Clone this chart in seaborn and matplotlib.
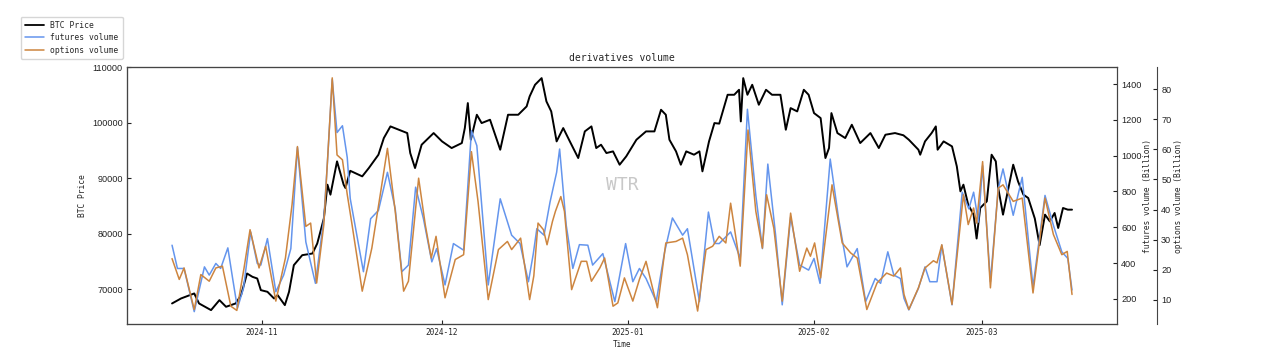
import numpy as np
import pandas as pd
import matplotlib
matplotlib.use('Agg')
import matplotlib.pyplot as plt
import matplotlib.dates as mdates
from matplotlib.lines import Line2D
import seaborn as sns

# === DATA (days counted from 2024-10-17) ===
START = pd.Timestamp('2024-10-17')

btc_days = [0.0, 1.5, 3.7, 4.5, 6.5, 7.9, 9.0, 10.6, 11.5, 12.5, 13.4, 14.2, 14.8, 15.9, 17.0, 17.6,
            18.8, 19.5, 20.3, 21.7, 23.4, 24.2, 25.3, 25.9, 26.4, 27.5, 28.6, 28.9, 29.7, 31.7, 32.8,
            34.4, 35.3, 36.4, 37.8, 39.2, 39.7, 40.5, 41.6, 43.6, 45.0, 46.6, 48.3, 48.8, 49.3, 49.8,
            50.8, 51.6, 53.0, 54.7, 56.0, 57.7, 59.1, 59.6, 60.5, 61.6, 62.4, 63.2, 63.8, 64.1, 65.2,
            66.3, 67.7, 68.8, 69.9, 70.7, 71.5, 72.4, 73.5, 74.6, 75.7, 77.4, 79.0, 80.4, 81.5, 82.3,
            82.9, 84.0, 84.8, 85.7, 87.0, 87.9, 88.4, 89.5, 90.4, 91.2, 92.6, 93.7, 94.5, 94.8, 95.2,
            95.9, 96.7, 97.8, 99.0, 100.0, 101.4, 102.3, 103.1, 104.2, 105.3, 106.1, 107.0, 108.1,
            108.9, 109.5, 109.9, 110.9, 112.2, 113.3, 114.7, 116.4, 117.8, 118.9, 120.5, 121.9, 122.8,
            124.4, 124.7, 125.5, 126.6, 127.3, 127.6, 128.6, 130.0, 130.8, 131.4, 131.9, 132.7, 133.6,
            134.1, 134.7, 135.8, 136.6, 137.3, 137.7, 138.5, 139.4, 140.2, 141.0, 141.9, 142.7, 143.8,
            144.6, 145.5, 146.3, 147.1, 147.7, 148.5, 149.3, 150.0]
btc_price = [67400, 68300, 69200, 67400, 66200, 68000, 66800, 67400, 68900, 72800, 72200, 71900, 69800,
             69500, 68300, 68900, 67100, 69500, 74300, 76100, 76400, 78200, 82700, 88800, 87000, 93000,
             88800, 88200, 91300, 90300, 91800, 94200, 97200, 99300, 98700, 98100, 94500, 91800, 96000,
             98100, 96600, 95400, 96300, 99000, 103500, 96900, 101400, 99900, 100500, 95100, 101400,
             101400, 102900, 104700, 106800, 108000, 103800, 102000, 98400, 96600, 99000, 96600, 93600,
             98400, 99300, 95400, 96000, 94500, 94800, 92400, 93900, 96900, 98400, 98400, 102300, 101400,
             96900, 94800, 92400, 94800, 94200, 94800, 91200, 96600, 99900, 99800, 105000, 105000,
             105900, 100200, 108000, 105000, 106800, 103200, 105900, 105000, 105000, 98700, 102600,
             102000, 105900, 105000, 101700, 100800, 93600, 95400, 101700, 98100, 97200, 99600, 96300,
             98100, 95400, 97800, 98100, 97700, 96900, 95100, 94200, 96600, 98100, 99300, 95100, 96600,
             95700, 92100, 87600, 88800, 85200, 83400, 79100, 84600, 85800, 94200, 93000, 88200, 83400,
             88200, 92400, 89400, 87000, 86400, 82700, 77900, 83400, 82200, 83700, 81000, 84600, 84300,
             84300]

fut_days = [0.0, 0.9, 2.0, 3.7, 5.4, 6.2, 7.3, 8.1, 9.3, 10.1, 10.9, 11.9, 13.1, 14.2, 14.8, 15.9, 17.3,
            18.6, 19.8, 20.9, 22.3, 23.9, 25.3, 25.9, 26.7, 27.5, 28.4, 29.2, 29.7, 31.1, 31.9, 33.1,
            34.4, 35.9, 37.2, 38.3, 39.4, 40.6, 41.9, 43.3, 44.1, 45.5, 46.9, 48.6, 49.9, 50.8, 52.7,
            54.7, 56.6, 58.0, 59.4, 60.2, 60.8, 62.0, 63.0, 64.1, 64.6, 65.7, 66.8, 67.9, 69.3, 70.1,
            71.8, 73.8, 75.6, 76.8, 77.9, 79.0, 80.7, 82.1, 83.4, 85.1, 85.9, 87.9, 89.4, 90.4, 91.2,
            93.1, 94.7, 95.9, 97.3, 98.4, 99.3, 100.6, 101.7, 103.1, 104.6, 106.1, 107.0, 108.0, 109.7,
            111.1, 112.5, 114.2, 115.6, 117.2, 118.1, 119.3, 120.3, 121.4, 122.0, 122.8, 124.4, 125.5,
            126.3, 127.5, 128.3, 130.0, 131.7, 132.8, 133.6, 134.4, 135.1, 136.4, 137.7, 138.5, 140.2,
            141.7, 143.5, 145.5, 146.9, 148.3, 149.3, 150.0]
fut_volume = [500, 370, 370, 129, 379, 333, 398, 370, 485, 314, 148, 259, 574, 398, 389, 537, 240, 333,
              481, 1046, 518, 287, 648, 963, 1426, 1129, 1167, 990, 760, 500, 352, 648, 694, 907, 703, 352,
              389, 824, 648, 407, 481, 278, 509, 472, 1139, 1056, 278, 759, 556, 509, 296, 450, 592, 556,
              741, 907, 1037, 611, 370, 503, 500, 389, 453, 185, 509, 296, 370, 314, 185, 463, 652, 556,
              592, 185, 685, 510, 509, 574, 426, 1259, 778, 481, 953, 556, 167, 657, 389, 361, 426, 287,
              981, 648, 379, 481, 185, 314, 287, 463, 333, 314, 203, 139, 259, 379, 296, 296, 500, 167,
              796, 703, 796, 629, 944, 296, 814, 926, 667, 879, 268, 778, 611, 463, 426, 250]

opt_days = [0.0, 1.2, 2.0, 3.7, 4.8, 6.2, 7.3, 8.4, 9.8, 10.8, 12.0, 13.0, 14.5, 15.6, 17.3, 18.9, 20.0,
            20.9, 22.3, 23.1, 24.1, 25.3, 26.7, 27.5, 28.4, 29.2, 30.0, 31.7, 33.3, 34.7, 35.9, 37.2,
            38.6, 39.4, 41.1, 42.2, 43.2, 44.0, 45.5, 47.2, 48.6, 49.9, 51.0, 52.7, 54.4, 55.9, 56.6,
            58.1, 59.6, 60.3, 61.0, 61.9, 62.5, 63.4, 63.9, 64.8, 65.4, 66.6, 68.2, 69.1, 69.9, 71.3,
            72.1, 73.5, 74.3, 75.4, 76.8, 77.9, 79.0, 80.9, 82.3, 84.0, 85.1, 85.9, 87.6, 89.0, 90.1,
            91.2, 92.3, 93.1, 94.7, 96.0, 97.3, 98.4, 99.1, 100.3, 101.7, 103.1, 104.6, 105.8, 106.4,
            107.1, 108.1, 110.0, 111.7, 113.1, 114.2, 115.8, 117.5, 119.1, 120.3, 121.4, 122.0, 122.8,
            124.4, 125.5, 126.9, 127.5, 128.3, 130.0, 131.9, 132.7, 133.6, 134.1, 135.1, 136.4, 137.7,
            138.5, 140.2, 141.7, 143.5, 145.5, 146.9, 148.3, 149.2, 150.0]
opt_volume = [23.7, 16.8, 20.6, 6.8, 18.4, 16.2, 20.6, 21.2, 7.9, 6.5, 20.6, 33.3, 20.6, 27.8, 9.6, 23.9,
              41.6, 60.9, 34.4, 35.5, 15.6, 35.0, 83.7, 58.1, 56.5, 45.0, 35.0, 12.9, 27.2, 44.9, 60.3,
              39.4, 12.9, 16.2, 50.4, 35.0, 23.9, 31.1, 10.7, 23.4, 25.0, 59.2, 42.7, 10.1, 26.7, 29.4,
              26.7, 30.5, 10.1, 18.0, 35.5, 33.3, 28.3, 36.0, 39.4, 44.3, 39.4, 13.4, 22.8, 22.8, 16.2,
              20.6, 23.9, 7.9, 9.0, 17.3, 9.6, 16.8, 22.8, 7.4, 28.9, 29.4, 30.5, 25.0, 6.3, 26.7, 27.8,
              31.1, 28.9, 42.1, 21.2, 66.4, 39.4, 27.2, 44.9, 33.8, 9.6, 38.8, 19.5, 27.2, 24.5, 28.9,
              17.3, 48.2, 28.9, 25.6, 23.9, 6.8, 15.6, 18.9, 17.9, 20.6, 11.8, 6.8, 14.0, 20.6, 23.0,
              22.3, 28.3, 8.5, 44.9, 35.0, 40.5, 35.5, 55.9, 14.0, 47.1, 48.2, 42.7, 43.8, 12.3, 43.8,
              31.7, 25.0, 26.1, 11.8]

btc_time = START + pd.to_timedelta(btc_days, unit='D')
fut_time = START + pd.to_timedelta(fut_days, unit='D')
opt_time = START + pd.to_timedelta(opt_days, unit='D')

# === STYLE ===
sns.set_style('ticks')
MONO = 'DejaVu Sans Mono'
NUM = 'Liberation Sans'
plt.rcParams['font.family'] = [MONO, 'DejaVu Sans']
plt.rcParams['axes.edgecolor'] = '#444444'
plt.rcParams['xtick.direction'] = 'in'
plt.rcParams['ytick.direction'] = 'in'

C_BTC = 'black'
C_FUT = 'cornflowerblue'
C_OPT = 'peru'

fig = plt.figure(figsize=(12.82, 3.58), dpi=100)
ax = fig.add_axes([0.0991, 0.095, 0.7722, 0.7178])
ax2 = ax.twinx()
ax3 = ax.twinx()
ax3.spines['right'].set_position(('axes', 1.0404))

sns.lineplot(x=btc_time, y=btc_price, ax=ax, color=C_BTC, lw=1.4, legend=False)
sns.lineplot(x=fut_time, y=fut_volume, ax=ax2, color=C_FUT, lw=1.1, legend=False)
sns.lineplot(x=opt_time, y=opt_volume, ax=ax3, color=C_OPT, lw=1.1, legend=False)

ax.set_ylim(63700, 110000)
ax2.set_ylim(60, 1495)
ax3.set_ylim(2, 87.3)
ax.set_yticks([70000, 80000, 90000, 100000, 110000])
ax2.set_yticks([200, 400, 600, 800, 1000, 1200, 1400])
ax3.set_yticks([10, 20, 30, 40, 50, 60, 70, 80])

ax.xaxis.set_major_locator(mdates.MonthLocator())
ax.xaxis.set_major_formatter(mdates.DateFormatter('%Y-%m'))

for a in (ax, ax2, ax3):
    a.tick_params(axis='both', length=3, width=0.8, colors='#222222', labelsize=6.6, pad=3)
    for lab in a.get_yticklabels():
        lab.set_fontfamily(NUM)
for lab in ax.get_xticklabels():
    lab.set_fontsize(5.6)

ax.set_title('derivatives volume', fontsize=7, pad=4)
ax.set_xlabel('Time', fontsize=5.6, labelpad=2)
ax.set_ylabel('BTC Price', fontsize=5.7, labelpad=4)
ax2.set_ylabel('futures volume (Billion)', fontsize=5.7, labelpad=1)
ax3.set_ylabel('options volume (Billion)', fontsize=5.7, labelpad=2)

ax.text(0.5, 0.54, 'WTR', transform=ax.transAxes, ha='center', va='center',
        fontsize=13, color='#c8c8c8', family=MONO)

handles = [Line2D([], [], color=C_BTC, lw=1.3),
           Line2D([], [], color=C_FUT, lw=1.1),
           Line2D([], [], color=C_OPT, lw=1.1)]
fig.legend(handles, ['BTC Price', 'futures volume', 'options volume'],
           loc='upper left', bbox_to_anchor=(0.013, 0.965), fontsize=5.8,
           frameon=True, edgecolor='#cccccc', handlelength=2.4, borderpad=0.5,
           labelspacing=0.45)

fig.savefig('out.png', dpi=100)
